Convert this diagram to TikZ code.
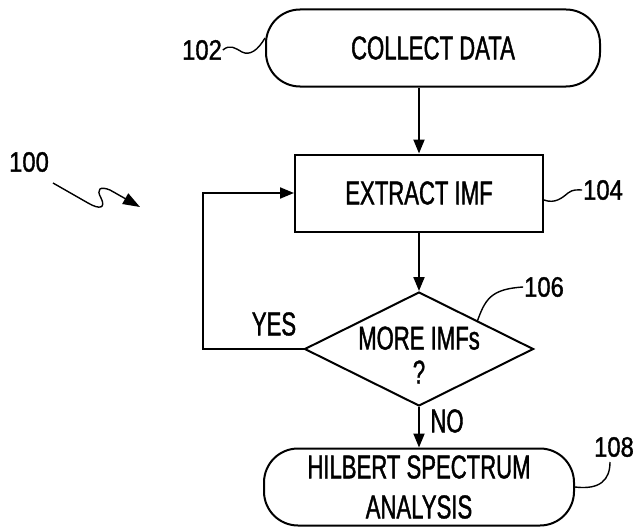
\documentclass[tikz,border=0pt]{standalone}
\usepackage{fontspec}
\setmainfont{Liberation Sans}
\newfontfamily\boxfont[FakeStretch=0.67,FakeBold=1.2]{Liberation Sans}
\newfontfamily\numfont[FakeStretch=0.85,FakeBold=1.2]{Liberation Sans}
\usetikzlibrary{shapes.geometric,arrows.meta}
\begin{document}
\begin{tikzpicture}[x=1pt,y=-1pt,line width=2pt,
  term/.style={draw, rounded corners=34pt, minimum width=334pt, minimum height=77pt, inner sep=0pt, align=center, font=\boxfont\fontsize{33}{40}\selectfont},
  proc/.style={draw, minimum width=248pt, minimum height=77pt, inner sep=0pt, font=\boxfont\fontsize{33}{40}\selectfont},
  dec/.style={draw, diamond, minimum width=229pt, minimum height=114pt, inner sep=0pt},
  txt/.style={inner sep=0pt, align=center, font=\boxfont\fontsize{33}{34}\selectfont},
  num/.style={inner sep=0pt, font=\numfont\fontsize{28}{30}\selectfont},
  arr/.style={-{Triangle[length=14pt,width=11pt]}},
  leader/.style={line width=1.4pt}]
\useasboundingbox (0,0) rectangle (634,527);
\node[term] (collect) at (433,48) {COLLECT DATA};
\node[proc] (extract) at (419,193) {EXTRACT IMF};
\node[dec] (more) at (419,349) {};
\node[txt] (moret) at (419,355) {MORE IMFs\\?};
\node[term, minimum width=310pt] (hilbert) at (419,487) {HILBERT SPECTRUM\\ANALYSIS};
\draw[arr] (collect.south -| extract.north) -- (extract.north);
\draw[arr] (extract) -- (more);
\draw[arr] (more) -- (hilbert);
\draw[arr] (more.west) -- ++(-101,0) |- (extract.west);
\node[txt] (yes) at (274,324) {YES};
\node[txt] (no) at (447,421) {NO};
\node[num] (l100) at (29,162) {100};
\node[num] (l102) at (202,50) {102};
\node[num] (l104) at (603,190) {104};
\node[num] (l106) at (544,287) {106};
\node[num] (l108) at (614,447) {108};
\coordinate (p102) at (265,38);
\coordinate (p104) at (extract.east |- 0,200);
\coordinate (p106) at (477,322);
\coordinate (p108) at (hilbert.east);
\draw[leader] (l102.east) .. controls (230,44) and (235,48) .. (242,52) .. controls (250,56) and (258,50) .. (p102);
\draw[leader] (p104) .. controls (555,204) and (562,198) .. (568,193) .. controls (573,189) and (578,190) .. (l104.west);
\draw[leader] (p106) .. controls (485,300) and (490,289) .. (l106.west);
\draw[leader] (p108) .. controls (600,490) and (610,480) .. (610,462);
\coordinate (s0) at (53,183);
\coordinate (s1) at (140,207);
\draw[leader, -{Triangle[length=17pt,width=12pt]}] (s0) -- (88,203) .. controls (100,210) and (106,208) .. (101,198) .. controls (96,189) and (100,186) .. (110,190) -- (s1);
\end{tikzpicture}
\end{document}
